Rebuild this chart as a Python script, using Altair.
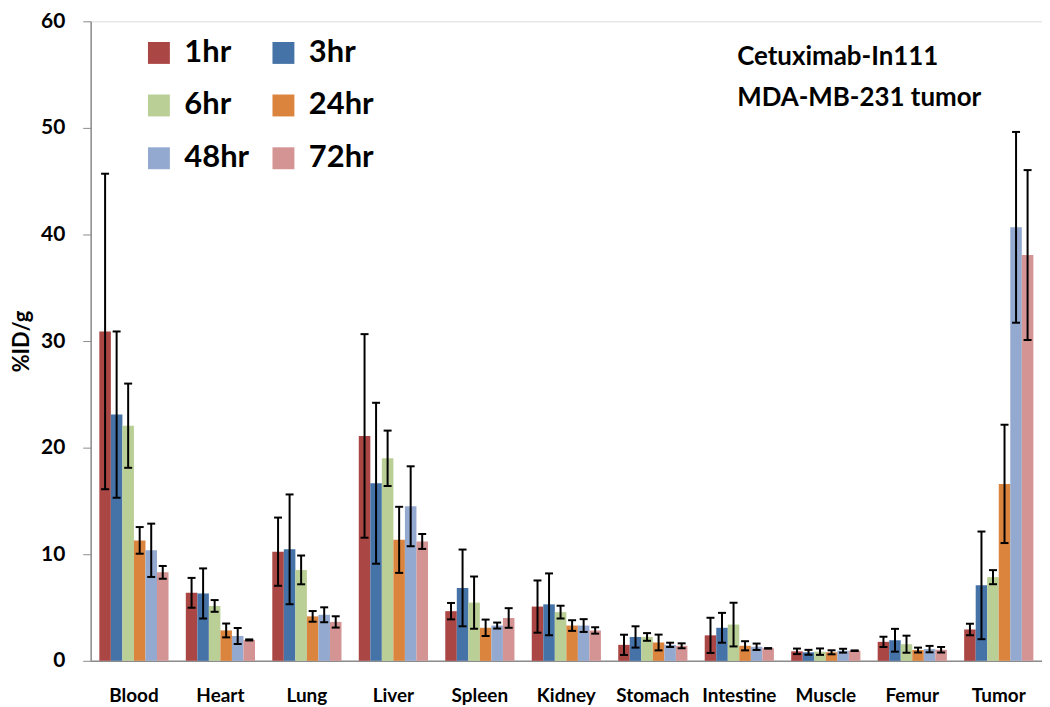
import altair as alt
import pandas as pd

organs = ["Blood", "Heart", "Lung", "Liver", "Spleen", "Kidney", "Stomach",
          "Intestine", "Muscle", "Femur", "Tumor"]
times = ["1hr", "3hr", "6hr", "24hr", "48hr", "72hr"]
colors = ["#AA4643", "#4572A7", "#B9CF96", "#DB843D", "#93A9CF", "#D39493"]

mean_1hr = [30.9, 6.38, 10.24, 21.1, 4.66, 5.09, 1.5, 2.39, 0.89, 1.78, 2.94]
mean_3hr = [23.1, 6.32, 10.46, 16.66, 6.84, 5.3, 2.24, 3.1, 0.8, 1.93, 7.08]
mean_6hr = [22.06, 5.15, 8.53, 19.0, 5.46, 4.57, 2.24, 3.4, 0.86, 1.56, 7.85]
mean_24hr = [11.3, 2.85, 4.17, 11.35, 3.1, 3.31, 1.72, 1.41, 0.8, 1.01, 16.6]
mean_48hr = [10.37, 2.33, 4.32, 14.5, 3.31, 3.31, 1.5, 1.32, 0.95, 1.1, 40.67]
mean_72hr = [8.3, 1.96, 3.65, 11.2, 4.02, 2.85, 1.41, 1.17, 0.95, 1.04, 38.07]

sd_1hr = [14.8, 1.4, 3.2, 9.55, 0.77, 2.45, 0.95, 1.65, 0.26, 0.48, 0.54]
sd_3hr = [7.8, 2.35, 5.15, 7.55, 3.6, 2.9, 1.0, 1.4, 0.23, 1.07, 5.05]
sd_6hr = [3.95, 0.55, 1.35, 2.6, 2.45, 0.6, 0.36, 2.05, 0.3, 0.8, 0.66]
sd_24hr = [1.25, 0.65, 0.5, 3.1, 0.77, 0.5, 0.74, 0.43, 0.19, 0.23, 5.55]
sd_48hr = [2.5, 0.75, 0.7, 3.75, 0.28, 0.6, 0.2, 0.3, 0.18, 0.3, 8.95]
sd_72hr = [0.6, 0.05, 0.53, 0.7, 0.92, 0.3, 0.23, 0.02, 0.03, 0.26, 7.97]

means = [mean_1hr, mean_3hr, mean_6hr, mean_24hr, mean_48hr, mean_72hr]
sds = [sd_1hr, sd_3hr, sd_6hr, sd_24hr, sd_48hr, sd_72hr]

annotation_lines = ["Cetuximab-In111", "MDA-MB-231 tumor"]

rows = []
for t, m_list, s_list in zip(times, means, sds):
    for o, m, s in zip(organs, m_list, s_list):
        rows.append({"organ": o, "time": t, "mean": m,
                     "lo": m - s, "hi": m + s})
df = pd.DataFrame(rows)

FONT = "Lato"
AXIS_GREY = "#8C8C8C"

x_enc = alt.X("organ:N", sort=organs, title=None,
              scale=alt.Scale(paddingInner=0.2, paddingOuter=0.1),
              axis=alt.Axis(labelAngle=0, labelFont=FONT, labelFontSize=19,
                            labelFontWeight="bold", labelColor="black",
                            labelPadding=26, ticks=False, domainColor=AXIS_GREY,
                            domainWidth=1.5))
xoff = alt.XOffset("time:N", sort=times,
                   scale=alt.Scale(paddingInner=0, paddingOuter=0))
y_scale = alt.Scale(domain=[0, 60], nice=False)

bars = alt.Chart(df).mark_bar(opacity=1).encode(
    x=x_enc,
    xOffset=xoff,
    y=alt.Y("mean:Q", scale=y_scale, title="%ID/g",
            axis=alt.Axis(values=[0, 10, 20, 30, 40, 50, 60], grid=False,
                          labelFont=FONT, labelFontSize=21, labelFontWeight="bold",
                          labelColor="black", labelPadding=18, tickSize=8,
                          tickColor=AXIS_GREY, domainColor=AXIS_GREY, domainWidth=1.5,
                          titleFont=FONT, titleFontSize=22, titleFontWeight="bold",
                          titleColor="black", titlePadding=7)),
    color=alt.Color("time:N", sort=times,
                    scale=alt.Scale(domain=times, range=colors),
                    legend=alt.Legend(title=None, orient="none", legendX=53,
                                      legendY=16, columns=2, direction="horizontal",
                                      symbolType="square",
                                      symbolSize=484, symbolStrokeWidth=0,
                                      symbolOpacity=1,
                                      labelFont=FONT, labelFontSize=31,
                                      labelFontWeight="bold", labelColor="black",
                                      labelOffset=10, rowPadding=21,
                                      columnPadding=18)),
)

err = alt.Chart(df).mark_rule(color="black", strokeWidth=2).encode(
    x=alt.X("organ:N", sort=organs),
    xOffset=xoff,
    y="lo:Q",
    y2="hi:Q",
)

cap_hi = alt.Chart(df).mark_tick(color="black", thickness=2, size=8,
                                  orient="horizontal", opacity=1).encode(
    x=alt.X("organ:N", sort=organs),
    xOffset=xoff,
    y=alt.Y("hi:Q"),
)
cap_lo = alt.Chart(df).mark_tick(color="black", thickness=2, size=8,
                                  orient="horizontal", opacity=1).encode(
    x=alt.X("organ:N", sort=organs),
    xOffset=xoff,
    y=alt.Y("lo:Q"),
)

notes = pd.DataFrame({"txt": annotation_lines,
                      "px": [649, 649], "py": [36, 77]})
note = alt.Chart(notes).mark_text(font=FONT, fontSize=26, fontWeight="bold",
                                  color="black", align="left",
                                  baseline="middle").encode(
    x=alt.X("px:Q", scale=None), y=alt.Y("py:Q", scale=None), text="txt:N")

chart = alt.layer(bars, err, cap_hi, cap_lo, note).properties(
    width=955, height=642,
    autosize=alt.AutoSizeParams(type="none"),
    padding={"left": 83, "top": 12, "right": 0, "bottom": 45},
).configure_view(stroke=AXIS_GREY, strokeWidth=1.5).configure(background="white")

chart.save("out.html", embed_options={"renderer": "svg", "actions": False})
